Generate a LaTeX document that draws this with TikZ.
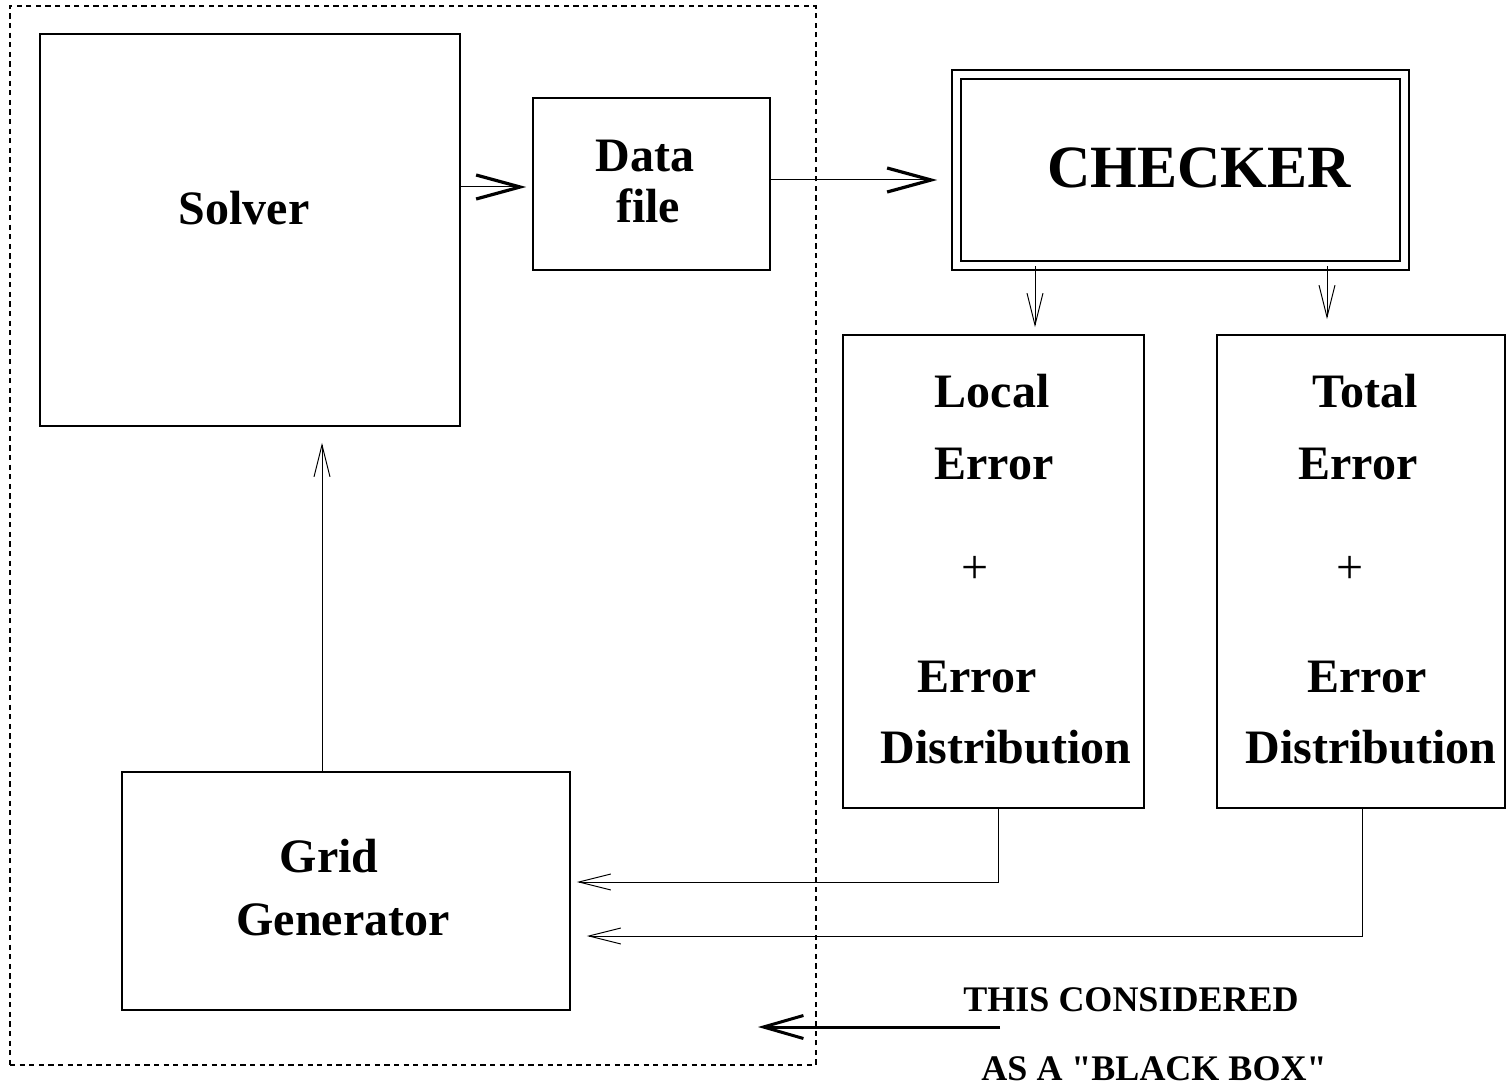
\documentclass[tikz,border=0pt]{standalone}
\usepackage{fontspec}
\setmainfont{Liberation Serif}[Ligatures=TeXOff]
\usetikzlibrary{arrows.meta}
\tikzset{
  box/.style={draw,line width=0.8pt,inner sep=0pt},
  txt/.style={anchor=base,inner sep=0pt,font=\fontsize{24}{28}\selectfont\bfseries},
  bigarr/.style={line width=0.5pt,-{Straight Barb[length=22pt,width=12pt,line width=1.6pt]}},
  smallarr/.style={line width=0.5pt,-{Straight Barb[length=16pt,width=8pt,line width=0.5pt]}},
}

\begin{document}
\begin{tikzpicture}[x=0.5pt,y=-0.5pt]
\useasboundingbox (0,0) rectangle (1506,1085);

% the black box
\node [box,dash pattern=on 2.6pt off 2.2pt,line width=1.4pt,minimum width=403pt,minimum height=529.5pt] (blackbox) at (413,535.5) {};

\node [box,minimum width=210pt,minimum height=196pt] (solver) at (250,230) {};
\node [txt] (solvertxt) at (244,225) {Solver};

\node [box,minimum width=118.5pt,minimum height=86pt] (datafile) at (651.5,184) {};
\node [txt] (datatxt) at (645,172) {Data};
\node [txt] (filetxt) at (648,223) {file};

\node [box,double,double distance=3.75pt,minimum width=224pt,minimum height=95.5pt] (checker) at (1180.5,170) {};
\node [txt,font=\fontsize{30}{34}\selectfont\bfseries] (checkertxt) at (1199,188) {CHECKER};

\node [box,minimum width=150.5pt,minimum height=236.5pt] (local) at (993.5,571.5) {};
\node [txt] (localtxt) at (992,408) {Local};
\node [txt] (localerr) at (994,480) {Error};
\node [txt,font=\fontsize{24}{28}\selectfont] (localplus) at (975,584) {+};
\node [txt] (localerrb) at (977,692) {Error};
\node [txt] (localdist) at (1006,763) {Distribution};

\node [box,minimum width=144pt,minimum height=236.5pt] (total) at (1361,571.5) {};
\node [txt] (totaltxt) at (1365,408) {Total};
\node [txt] (totalerr) at (1358,480) {Error};
\node [txt,font=\fontsize{24}{28}\selectfont] (totalplus) at (1350,584) {+};
\node [txt] (totalerrb) at (1367,692) {Error};
\node [txt] (totaldist) at (1371,763) {Distribution};

\node [box,minimum width=224pt,minimum height=119pt] (grid) at (346,891) {};
\node [txt] (gridtxt) at (329,872) {Grid};
\node [txt] (gentxt) at (343,935) {Generator};

\node [txt,font=\fontsize{18}{22}\selectfont\bfseries] (notea) at (1131,1011) {THIS CONSIDERED};
\node [txt,font=\fontsize{18}{22}\selectfont\bfseries] (noteb) at (1154,1080) {AS A "BLACK BOX"};

% connectors
\draw [bigarr,shorten >=3pt] ([yshift=-1.5pt]datafile.west -| solver.east) -- ([yshift=-1.5pt]datafile.west);
\draw [bigarr,shorten >=9.25pt] ([yshift=2pt]datafile.east) -- ([yshift=2pt]datafile.east -| checker.west);
\draw [smallarr,shorten >=3.5pt] ([xshift=20.75pt]local.north |- checker.south) -- ([xshift=20.75pt]local.north);
\draw [smallarr,shorten >=7.5pt] ([xshift=-17pt]total.north |- checker.south) -- ([xshift=-17pt]total.north);
\draw [smallarr,shorten >=8pt] ([xshift=-12pt]grid.north) -- ([xshift=-12pt]grid.north |- solver.south);
\draw [smallarr,shorten >=3pt] ([xshift=2.25pt]local.south) |- ([yshift=4.5pt]grid.east);
\draw [smallarr,shorten >=8pt] ([xshift=0.5pt]total.south) |- ([yshift=-22.5pt]grid.east);

\coordinate (bbtail) at (1000,1027);
\coordinate (bbtip) at (758,1027);
\draw [line width=1.5pt,-{Straight Barb[length=20pt,width=11.5pt]}] (bbtail) -- (bbtip);
\end{tikzpicture}
\end{document}
